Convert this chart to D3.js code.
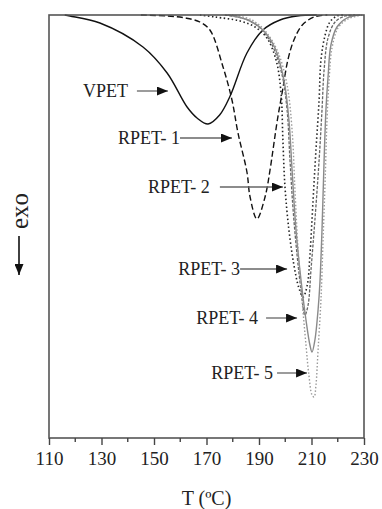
<!DOCTYPE html>
<html>
<head>
<meta charset="utf-8">
<script src="https://cdn.jsdelivr.net/npm/d3@7"></script>
<style>
  body { margin: 0; background: #fff; }
  svg { display: block; }
  text { font-family: "Liberation Serif", "Times New Roman", serif; fill: #222; }
</style>
</head>
<body>
<div id="chart"></div>
<script>
// DSC cooling curves, heat flow in arbitrary units (exo down)
var vpetT = [116, 118, 129.4, 145.8, 155, 162.6, 166.4, 170.6, 175, 179, 185.4, 191.5, 198, 204.5, 212];
var vpetV = [0, -0.01, -0.08, -0.32, -0.58, -0.92, -1.03, -1.09, -1.0, -0.81, -0.38, -0.15, -0.05, -0.01, 0];

var rpet1T = [145, 155, 162, 167.5, 171.3, 176.3, 179.7, 182, 185.4, 186.6, 189.2, 192.3, 194.2, 195.6, 197, 199, 201, 203.3, 206.5, 211, 216];
var rpet1V = [0, -0.01, -0.03, -0.07, -0.15, -0.52, -0.85, -1.18, -1.57, -1.82, -2.04, -1.82, -1.55, -1.3, -1.05, -0.75, -0.45, -0.25, -0.1, -0.02, 0];

var rpet2T = [167.5, 173.2, 182.8, 188.5, 193.0, 196.5, 198.4, 199.1, 199.9, 201.4, 203.3, 205.2, 206.8, 208.4, 209.4, 210.6, 211.7, 212.9, 213.6, 215.2, 217.0, 219.7, 222.8];
var rpet2V = [0, -0.02, -0.06, -0.12, -0.23, -0.45, -0.78, -1.25, -1.72, -2.15, -2.5, -2.73, -2.82, -2.7, -2.4, -1.85, -1.35, -0.85, -0.45, -0.2, -0.07, -0.01, 0];

var rpet3T = [177.0, 184.7, 190.4, 195.0, 198.8, 200.7, 201.8, 203.0, 204.5, 206.0, 207.5, 208.7, 209.8, 211.3, 212.9, 214.0, 214.8, 216.3, 219.0, 222.8, 226.6];
var rpet3V = [0, -0.04, -0.13, -0.3, -0.6, -0.95, -1.45, -1.95, -2.4, -2.75, -3.0, -2.9, -2.55, -2.05, -1.45, -0.95, -0.55, -0.23, -0.07, -0.01, 0];

var rpet4T = [178.2, 185.8, 191.5, 196.1, 199.5, 201.4, 202.6, 204.1, 206.0, 207.9, 209.4, 210.2, 211.3, 212.5, 213.2, 214.0, 214.8, 215.5, 216.3, 217.4, 219.7, 223.5, 228.5];
var rpet4V = [0, -0.05, -0.15, -0.33, -0.65, -1.05, -1.55, -2.15, -2.65, -3.05, -3.3, -3.37, -3.25, -2.95, -2.68, -2.15, -1.45, -0.95, -0.62, -0.3, -0.12, -0.03, 0];

var rpet5T = [179.7, 187.3, 192.7, 197.2, 200.7, 202.6, 203.7, 204.9, 206.4, 207.9, 209.0, 210.2, 211.0, 211.7, 212.5, 213.6, 214.4, 215.2, 215.9, 216.7, 217.8, 220.1, 223.9, 229.2];
var rpet5V = [0, -0.05, -0.17, -0.37, -0.7, -1.15, -1.75, -2.35, -2.85, -3.3, -3.6, -3.8, -3.82, -3.7, -3.35, -2.85, -2.25, -1.65, -1.05, -0.65, -0.33, -0.13, -0.04, 0];

var xTicks = [110, 130, 150, 170, 190, 210, 230];
var xMinor = [120, 140, 160, 180, 200, 220];

// label text, the point (T, value) the arrow points at
var labelNames = ["VPET", "RPET- 1", "RPET- 2", "RPET- 3", "RPET- 4", "RPET- 5"];
var labelTipT = [155.3, 179.7, 199.1, 200.7, 204.5, 208.3];
var labelTipV = [-0.76, -1.23, -1.72, -2.54, -3.03, -3.58];

var series = [
    {name: "VPET", t: vpetT, v: vpetV, color: "#111", width: 1.4, dash: null},
    {name: "RPET-1", t: rpet1T, v: rpet1V, color: "#111", width: 1.4, dash: "6,3"},
    {name: "RPET-2", t: rpet2T, v: rpet2V, color: "#222", width: 1.6, dash: "1.5,2.5"},
    {name: "RPET-3", t: rpet3T, v: rpet3V, color: "#666", width: 1.3, dash: "3,1.5"},
    {name: "RPET-4", t: rpet4T, v: rpet4V, color: "#8a8a8a", width: 1.4, dash: null},
    {name: "RPET-5", t: rpet5T, v: rpet5V, color: "#9a9a9a", width: 1.4, dash: "1.5,2"}
];

var margin = {top: 15, right: 18, bottom: 71, left: 49},
    width = 382 - margin.left - margin.right,
    height = 509 - margin.top - margin.bottom;

var svg = d3.select("#chart").append("svg")
    .attr("width", 382)
    .attr("height", 509);

var defs = svg.append("defs");
defs.append("marker")
    .attr("id", "head")
    .attr("viewBox", "0 0 11 9")
    .attr("refX", 11)
    .attr("refY", 4.5)
    .attr("markerWidth", 11)
    .attr("markerHeight", 9)
    .attr("markerUnits", "userSpaceOnUse")
    .attr("orient", "auto")
    .append("path")
    .attr("d", "M0,0L11,4.5L0,9Z")
    .attr("fill", "#111");

var g = svg.append("g")
    .attr("transform", "translate(" + margin.left + "," + margin.top + ")");

var x = d3.scaleLinear().domain([110, 230]).range([0, width]);
var y = d3.scaleLinear().domain([-4.23, 0]).range([height, 0]);

var line = d3.line()
    .x(function (d) { return x(d[0]); })
    .y(function (d) { return y(d[1]); })
    .curve(d3.curveCatmullRom.alpha(0.5));

// curves
series.forEach(function (s) {
    var pts = s.t.map(function (t, i) { return [t, s.v[i]]; });
    g.append("path")
        .datum(pts)
        .attr("d", line)
        .attr("fill", "none")
        .attr("stroke", s.color)
        .attr("stroke-width", s.width)
        .attr("stroke-dasharray", s.dash);
});

// frame
g.append("rect")
    .attr("width", width)
    .attr("height", height)
    .attr("fill", "none")
    .attr("stroke", "#555")
    .attr("stroke-width", 1.6);

// x axis
var xAxis = d3.axisBottom(x)
    .tickValues(xTicks)
    .tickSize(7)
    .tickPadding(7)
    .tickFormat(d3.format("d"));

var xAxisGroup = g.append("g")
    .attr("class", "x-axis axis")
    .attr("transform", "translate(0," + height + ")")
    .call(xAxis);

xAxisGroup.select(".domain").remove();
xAxisGroup.selectAll("line").attr("stroke", "#444").attr("stroke-width", 1.4);
xAxisGroup.selectAll("text")
    .attr("font-size", 19)
    .attr("font-family", "Liberation Serif")
    .attr("fill", "#222");

g.selectAll(".minor")
    .data(xMinor)
    .enter().append("line")
    .attr("class", "minor")
    .attr("x1", function (d) { return x(d); })
    .attr("x2", function (d) { return x(d); })
    .attr("y1", height)
    .attr("y2", height + 4)
    .attr("stroke", "#444")
    .attr("stroke-width", 1.4);

// axis titles
svg.append("text")
    .attr("x", margin.left + x(170))
    .attr("y", 505)
    .attr("text-anchor", "middle")
    .attr("font-size", 20)
    .text("T (ºC)");

svg.append("text")
    .attr("transform", "translate(28,211) rotate(-90)")
    .attr("text-anchor", "middle")
    .attr("font-size", 25)
    .text("exo");

svg.append("line")
    .attr("x1", 19).attr("x2", 19)
    .attr("y1", 236).attr("y2", 275)
    .attr("stroke", "#111")
    .attr("stroke-width", 1.6)
    .attr("marker-end", "url(#head)");

// labels with arrows
var arrowLen = [31, 52, 63, 47, 31, 30];
var gap = [9, 0, 10, 0, 8, 4];

labelNames.forEach(function (name, i) {
    var tx = x(labelTipT[i]), ty = y(labelTipV[i]);
    var x0 = tx - arrowLen[i];
    g.append("line")
        .attr("x1", x0).attr("x2", tx)
        .attr("y1", ty).attr("y2", ty)
        .attr("stroke", "#666")
        .attr("stroke-width", 1.3)
        .attr("marker-end", "url(#head)");
    g.append("text")
        .attr("x", x0 - gap[i])
        .attr("y", ty + 6)
        .attr("text-anchor", "end")
        .attr("font-size", 18)
        .text(name);
});
</script>
</body>
</html>
